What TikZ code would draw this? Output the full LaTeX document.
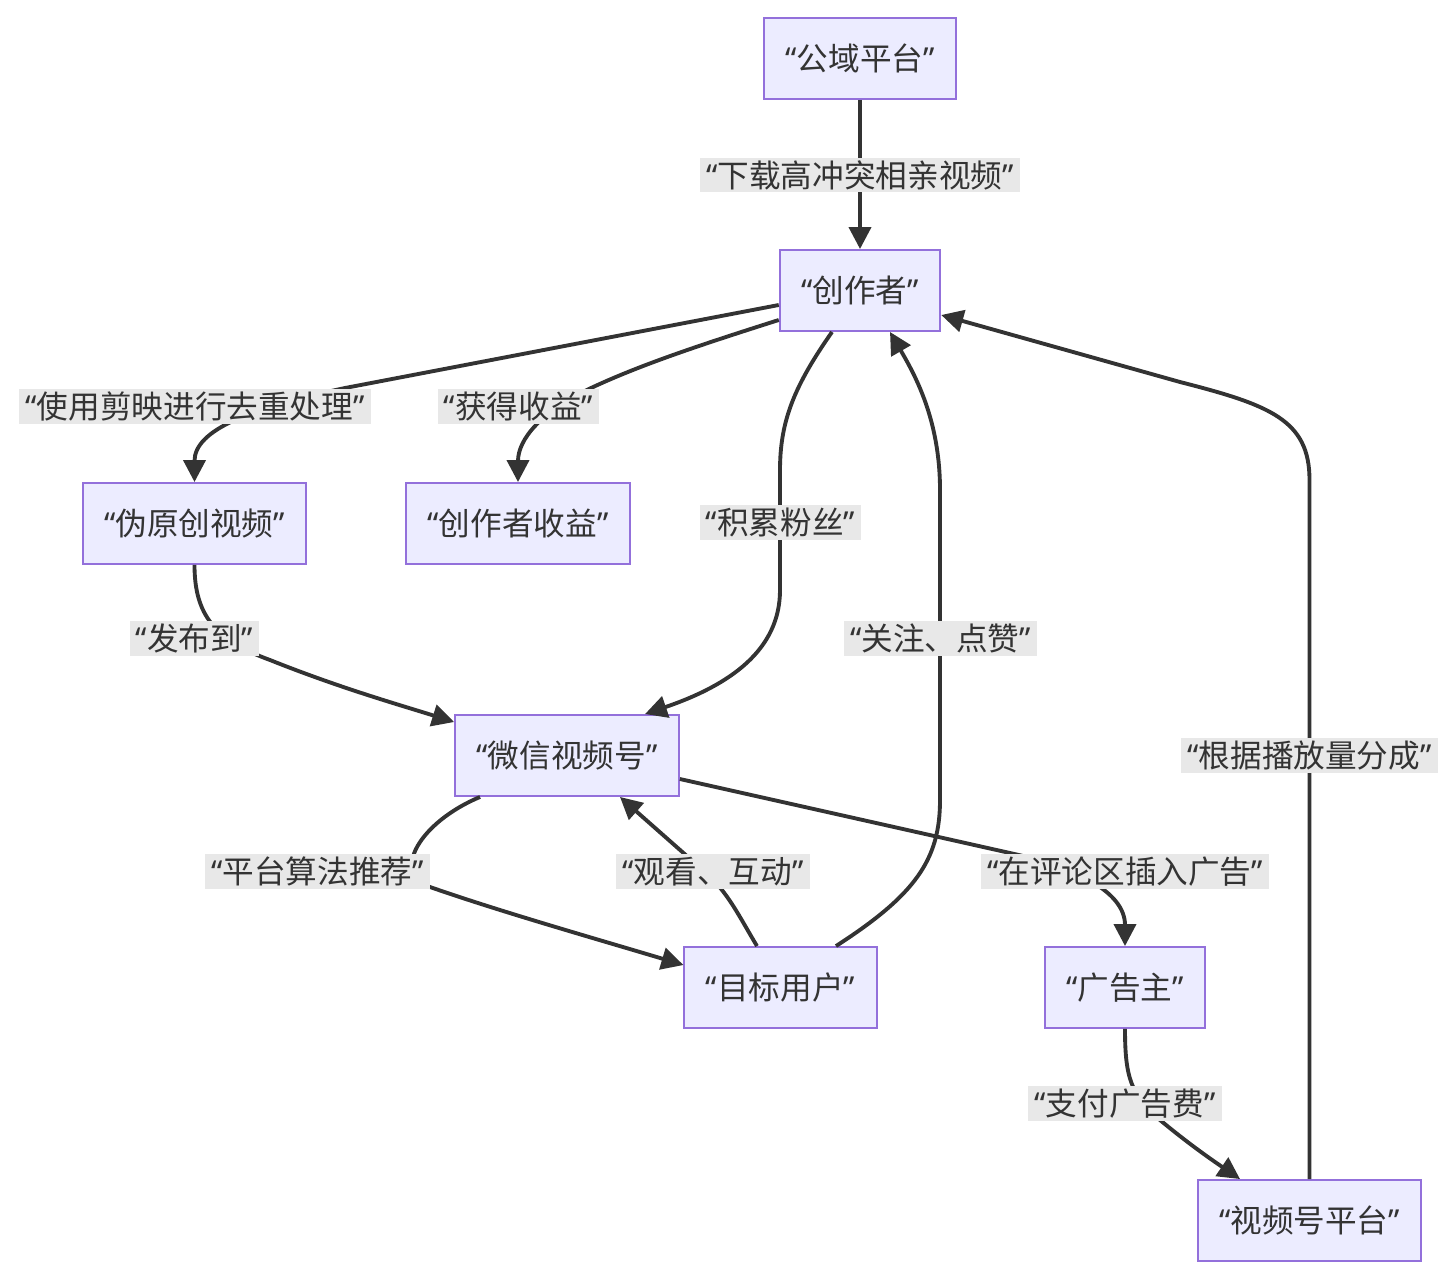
\documentclass[tikz,border=0pt]{standalone}
\usepackage{fontspec}
\setmainfont{Noto Sans CJK SC}
\newfontfamily\quotefont{Noto Sans}
\usepackage{tikz}
\usetikzlibrary{arrows.meta}
\definecolor{boxfill}{HTML}{ECECFF}
\definecolor{boxline}{HTML}{9370DB}
\definecolor{linec}{HTML}{333333}
\definecolor{lblbg}{HTML}{E8E8E8}
% narrow latin quotes round a text
\newcommand\qtxt[1]{{\quotefont “}#1{\quotefont ”}}

\begin{document}
\begin{tikzpicture}[
    x=0.02cm, y=-0.02cm,
    font=\fontsize{18pt}{21.5pt}\selectfont,
    box/.style={
        rectangle,
        draw=boxline,
        fill=boxfill,
        line width=1.1pt,
        text=linec,
        minimum height=1.62cm,
        inner xsep=0.43cm,
        align=center
    },
    lbl/.style={
        fill=lblbg,
        text=linec,
        inner xsep=3.5pt,
        inner ysep=1.5pt
    },
    flow/.style={
        draw=linec,
        line width=2.2pt,
        -{Triangle[length=0.44cm,width=0.44cm]}
    }
]
\useasboundingbox (0,0) rectangle (1456,1278);

\node[box] (pub) at (860,58.5) {\qtxt{公域平台}};
\node[box] (creator) at (860,290.5) {\qtxt{创作者}};
\node[box] (fake) at (194.5,523.5) {\qtxt{伪原创视频}};
\node[box] (income) at (518,523.5) {\qtxt{创作者收益}};
\node[box] (wx) at (567,755.5) {\qtxt{微信视频号}};
\node[box] (user) at (780.5,987.5) {\qtxt{目标用户}};
\node[box] (adv) at (1125,987.5) {\qtxt{广告主}};
\node[box] (plat) at (1309.5,1220.5) {\qtxt{视频号平台}};

\draw[flow] (pub) -- (creator);
\draw[flow] ([yshift=-0.29cm]creator.west) -- (345,388)
    .. controls (250,408) and (194.5,430) .. (fake.north);
\draw[flow] ([yshift=-0.59cm]creator.west) .. controls (700,345) and (640,365) .. (591,388)
    .. controls (540,412) and (518,440) .. (income.north);
\draw[flow] ([xshift=-0.56cm]creator.south) .. controls (795,385) and (780,420) .. (780,470)
    -- (780,590) .. controls (780,650) and (730,685) .. ([xshift=1.56cm]wx.north);
\draw[flow] (fake.south) .. controls (194.5,615) and (215,640) .. (270,660)
    .. controls (340,688) and (400,705) .. ([yshift=0.67cm]wx.west);
\draw[flow] ([xshift=-1.74cm]wx.south) .. controls (420,822) and (390,873) .. (430,887)
    .. controls (500,911.5) and (600,940) .. ([yshift=0.45cm]user.west);
\draw[flow] ([xshift=-0.47cm]user.north) .. controls (740,918) and (728,892) .. (705,872)
    -- ([xshift=1.06cm]wx.south);
\draw[flow] ([xshift=1.11cm]user.north) .. controls (915,895) and (940,860) .. (940,800)
    -- (940,490) .. controls (940,420) and (915,375) .. ([xshift=0.6cm]creator.south);
\draw[flow] ([yshift=-0.47cm]wx.east) -- (1010,853)
    .. controls (1070,866) and (1125,890) .. (adv.north);
\draw[flow] (adv.south) .. controls (1125,1075) and (1130,1095) .. (1160,1120)
    .. controls (1190,1145) and (1215,1162) .. ([xshift=-1.39cm]plat.north);
\draw[flow] (plat.north) -- (1309.5,480) .. controls (1309.5,420) and (1270,405) .. (1180,382)
    -- ([yshift=-0.49cm]creator.east);

% edge labels
\node[lbl] (ldown) at (860,175) {\qtxt{下载高冲突相亲视频}};
\node[lbl] (ledit) at (195,406.5) {\qtxt{使用剪映进行去重处理}};
\node[lbl] (lgain) at (518.5,406.5) {\qtxt{获得收益}};
\node[lbl] (lfans) at (780.5,522.5) {\qtxt{积累粉丝}};
\node[lbl] (lpost) at (194.5,638.5) {\qtxt{发布到}};
\node[lbl] (llike) at (940.5,638.5) {\qtxt{关注、点赞}};
\node[lbl] (lshare) at (1309.5,755.5) {\qtxt{根据播放量分成}};
\node[lbl] (lalgo) at (317.5,871.5) {\qtxt{平台算法推荐}};
\node[lbl] (lwatch) at (713,871.5) {\qtxt{观看、互动}};
\node[lbl] (lad) at (1125,871.5) {\qtxt{在评论区插入广告}};
\node[lbl] (lpay) at (1125,1103.5) {\qtxt{支付广告费}};

\end{tikzpicture}
\end{document}
